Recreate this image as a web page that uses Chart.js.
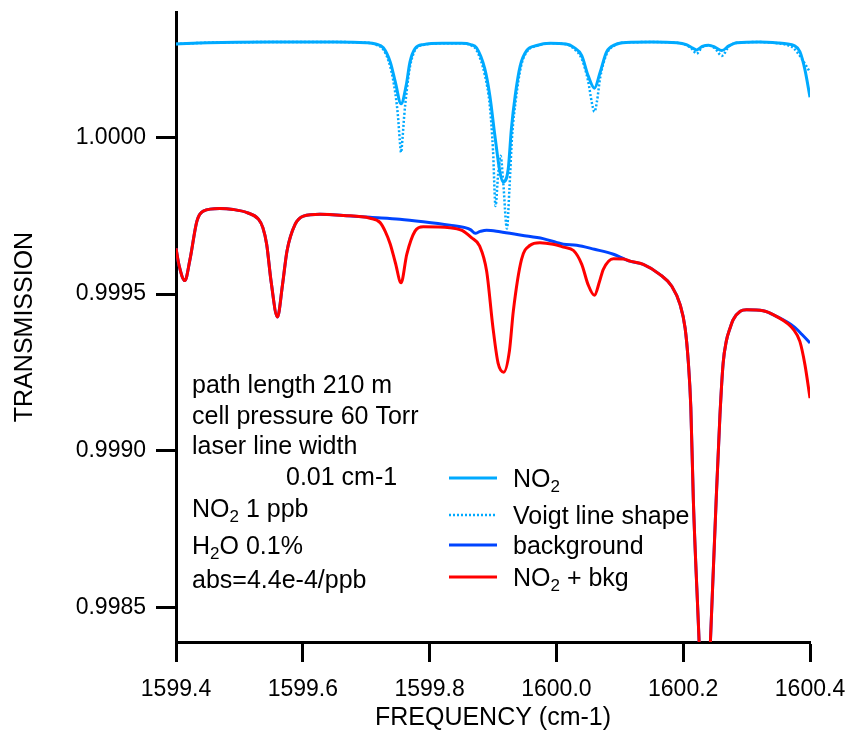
<!DOCTYPE html>
<html>
<head>
<meta charset="utf-8">
<script src="https://cdn.jsdelivr.net/npm/chart.js@4"></script>
<style>
  body { margin: 0; background: #fff; }
  #wrap { width: 850px; height: 734px; position: relative; }
</style>
</head>
<body>
<div id="wrap"><canvas id="specChart"></canvas></div>
<script>
// NO2 transmission (Voigt with laser width) - cyan solid
const freqNO2 = [1599.400, 1599.450, 1599.550, 1599.650, 1599.700, 1599.715, 1599.727, 1599.738, 1599.746, 1599.755,
    1599.763, 1599.769, 1599.777, 1599.790, 1599.820, 1599.850, 1599.865, 1599.874, 1599.887, 1599.895,
    1599.903, 1599.911, 1599.916, 1599.924, 1599.929, 1599.935, 1599.943, 1599.953, 1599.969, 1599.990,
    1600.015, 1600.027, 1600.040, 1600.050, 1600.060, 1600.069, 1600.079, 1600.092, 1600.110, 1600.150,
    1600.190, 1600.205, 1600.214, 1600.221, 1600.230, 1600.240, 1600.250, 1600.261, 1600.272, 1600.285,
    1600.320, 1600.350, 1600.365, 1600.374, 1600.384, 1600.392, 1600.400];
const transNO2 = [1.000298, 1.000302, 1.000304, 1.000304, 1.000302, 1.000298, 1.000286, 1.000240, 1.000176, 1.000107,
    1.000165, 1.000240, 1.000283, 1.000296, 1.000300, 1.000300, 1.000296, 1.000286, 1.000219, 1.000133,
    1.000005, 0.999889, 0.999858, 0.999899, 1.000027, 1.000133, 1.000229, 1.000277, 1.000293, 1.000300,
    1.000298, 1.000288, 1.000261, 1.000197, 1.000157, 1.000208, 1.000272, 1.000295, 1.000303, 1.000304,
    1.000302, 1.000296, 1.000286, 1.000279, 1.000290, 1.000294, 1.000288, 1.000277, 1.000292, 1.000302,
    1.000304, 1.000301, 1.000298, 1.000294, 1.000274, 1.000216, 1.000128];

// pure Voigt line shape - cyan dotted
const freqVoigt = [1599.400, 1599.450, 1599.550, 1599.650, 1599.700, 1599.715, 1599.727, 1599.738, 1599.746, 1599.750,
    1599.753, 1599.755, 1599.757, 1599.760, 1599.764, 1599.769, 1599.777, 1599.790, 1599.820, 1599.850,
    1599.865, 1599.874, 1599.887, 1599.895, 1599.900, 1599.904, 1599.908, 1599.912, 1599.916, 1599.922,
    1599.926, 1599.930, 1599.936, 1599.944, 1599.953, 1599.969, 1599.990, 1600.015, 1600.027, 1600.040,
    1600.050, 1600.056, 1600.060, 1600.064, 1600.069, 1600.079, 1600.092, 1600.110, 1600.150, 1600.190,
    1600.205, 1600.214, 1600.221, 1600.230, 1600.240, 1600.250, 1600.261, 1600.272, 1600.285, 1600.320,
    1600.350, 1600.365, 1600.374, 1600.384, 1600.392, 1600.400];
const transVoigt = [1.000298, 1.000302, 1.000304, 1.000304, 1.000302, 1.000296, 1.000280, 1.000225, 1.000140, 1.000070,
    0.999990, 0.999952, 0.999990, 1.000070, 1.000150, 1.000225, 1.000278, 1.000295, 1.000300, 1.000300,
    1.000294, 1.000278, 1.000200, 1.000100, 0.999960, 0.999781, 0.999880, 0.999941, 0.999860, 0.999709,
    0.999840, 1.000000, 1.000120, 1.000225, 1.000272, 1.000292, 1.000300, 1.000297, 1.000284, 1.000250,
    1.000180, 1.000110, 1.000082, 1.000115, 1.000190, 1.000265, 1.000294, 1.000303, 1.000304, 1.000302,
    1.000294, 1.000282, 1.000267, 1.000288, 1.000293, 1.000284, 1.000260, 1.000290, 1.000302, 1.000304,
    1.000300, 1.000294, 1.000285, 1.000260, 1.000235, 1.000208];

// background (H2O etc.) - blue
const freqBkg = [1599.400, 1599.405, 1599.414, 1599.422, 1599.433, 1599.443, 1599.469, 1599.490, 1599.512, 1599.530,
    1599.537, 1599.543, 1599.550, 1599.560, 1599.568, 1599.575, 1599.588, 1599.601, 1599.627, 1599.664,
    1599.706, 1599.753, 1599.790, 1599.832, 1599.856, 1599.865, 1599.872, 1599.880, 1599.890, 1599.911,
    1599.945, 1599.979, 1600.000, 1600.011, 1600.032, 1600.060, 1600.090, 1600.106, 1600.116, 1600.137,
    1600.163, 1600.182, 1600.195, 1600.203, 1600.208, 1600.212, 1600.216, 1600.225, 1600.234, 1600.243,
    1600.252, 1600.258, 1600.263, 1600.268, 1600.274, 1600.279, 1600.290, 1600.300, 1600.326, 1600.347,
    1600.374, 1600.387, 1600.400];
const transBkg = [0.999646, 0.999590, 0.999543, 0.999610, 0.999733, 0.999765, 0.999773, 0.999770, 0.999760, 0.999739,
    0.999712, 0.999659, 0.999540, 0.999427, 0.999530, 0.999637, 0.999723, 0.999749, 0.999755, 0.999751,
    0.999745, 0.999739, 0.999731, 0.999720, 0.999712, 0.999705, 0.999694, 0.999700, 0.999704, 0.999699,
    0.999688, 0.999677, 0.999665, 0.999659, 0.999656, 0.999643, 0.999627, 0.999613, 0.999605, 0.999595,
    0.999563, 0.999525, 0.999467, 0.999392, 0.999285, 0.999140, 0.998843, 0.998395, 0.997900, 0.998395,
    0.998843, 0.999115, 0.999280, 0.999350, 0.999392, 0.999419, 0.999445, 0.999450, 0.999447, 0.999429,
    0.999397, 0.999372, 0.999344];

// NO2 + background - red
const freqSum = [1599.400, 1599.405, 1599.414, 1599.422, 1599.433, 1599.443, 1599.469, 1599.490, 1599.512, 1599.530,
    1599.537, 1599.543, 1599.550, 1599.560, 1599.568, 1599.575, 1599.588, 1599.601, 1599.627, 1599.664,
    1599.706, 1599.722, 1599.730, 1599.738, 1599.746, 1599.755, 1599.764, 1599.777, 1599.790, 1599.832,
    1599.851, 1599.866, 1599.879, 1599.890, 1599.900, 1599.908, 1599.917, 1599.926, 1599.932, 1599.945,
    1599.958, 1599.974, 1599.995, 1600.011, 1600.027, 1600.040, 1600.050, 1600.060, 1600.068, 1600.074,
    1600.090, 1600.106, 1600.116, 1600.137, 1600.163, 1600.182, 1600.195, 1600.203, 1600.208, 1600.212,
    1600.216, 1600.225, 1600.234, 1600.243, 1600.252, 1600.258, 1600.263, 1600.268, 1600.274, 1600.279,
    1600.290, 1600.300, 1600.326, 1600.347, 1600.374, 1600.384, 1600.392, 1600.400];
const transSum = [0.999646, 0.999590, 0.999543, 0.999610, 0.999733, 0.999765, 0.999773, 0.999770, 0.999760, 0.999739,
    0.999712, 0.999659, 0.999540, 0.999427, 0.999530, 0.999637, 0.999723, 0.999749, 0.999755, 0.999751,
    0.999742, 0.999728, 0.999700, 0.999659, 0.999600, 0.999536, 0.999627, 0.999701, 0.999715, 0.999712,
    0.999703, 0.999680, 0.999653, 0.999573, 0.999392, 0.999280, 0.999251, 0.999320, 0.999445, 0.999611,
    0.999655, 0.999664, 0.999659, 0.999650, 0.999639, 0.999595, 0.999530, 0.999496, 0.999540, 0.999579,
    0.999613, 0.999612, 0.999605, 0.999595, 0.999563, 0.999525, 0.999467, 0.999392, 0.999285, 0.999140,
    0.998843, 0.998395, 0.997900, 0.998395, 0.998843, 0.999115, 0.999280, 0.999350, 0.999392, 0.999419,
    0.999445, 0.999450, 0.999447, 0.999429, 0.999387, 0.999349, 0.999275, 0.999168];

const yTicks = [0.9985, 0.9990, 0.9995, 1.0000];
const xTicks = [1599.4, 1599.6, 1599.8, 1600.0, 1600.2, 1600.4];

const notes = [
    [['path length 210 m']],
    [['cell pressure 60 Torr']],
    [['laser line width']],
    [['0.01 cm-1']],
    [['NO'], ['2', 'sub'], [' 1 ppb']],
    [['H'], ['2', 'sub'], ['O 0.1%']],
    [['abs=4.4e-4/ppb']]
];
const legendItems = [
    { parts: [['NO'], ['2', 'sub']], color: '#00AAFF', dash: [] },
    { parts: [['Voigt line shape']], color: '#00AAFF', dash: [2, 2] },
    { parts: [['background']], color: '#0044FF', dash: [] },
    { parts: [['NO'], ['2', 'sub'], [' + bkg']], color: '#FF0000', dash: [] }
];

const FONT = '"Liberation Sans", Arial, sans-serif';

function toPoints(xs, ys) {
    return xs.map((x, i) => ({ x: x, y: ys[i] }));
}

function drawRich(ctx, x, y, parts) {
    let cx = x;
    parts.forEach(p => {
        const sub = p[1] === 'sub';
        ctx.font = (sub ? '17px ' : '25px ') + FONT;
        ctx.fillText(p[0], cx, sub ? y + 5 : y);
        cx += ctx.measureText(p[0]).width;
    });
}

const textPlugin = {
    id: 'textPlugin',
    afterDraw(chart) {
        const ctx = chart.ctx;
        const area = chart.chartArea;
        ctx.save();
        ctx.fillStyle = '#000';
        ctx.textBaseline = 'alphabetic';
        ctx.textAlign = 'left';
        // annotation block (offsets from the top-left of the plot area)
        const noteX = [16, 16, 16, 110, 16, 16, 16];
        const noteY = [381, 412, 442, 473, 505, 542, 576];
        notes.forEach((parts, i) => drawRich(ctx, area.left + noteX[i], area.top + noteY[i], parts));
        // legend block
        const legY = [475, 512, 542, 574];
        legendItems.forEach((item, i) => {
            const y = area.top + legY[i];
            ctx.beginPath();
            ctx.strokeStyle = item.color;
            ctx.lineWidth = item.dash.length ? 2.5 : 3;
            ctx.setLineDash(item.dash);
            ctx.moveTo(area.left + 273, y - 9);
            ctx.lineTo(area.left + 321, y - 9);
            ctx.stroke();
            ctx.setLineDash([]);
            drawRich(ctx, area.left + 337, y, item.parts);
        });
        ctx.restore();
    }
};

const specCtx = document.getElementById('specChart').getContext('2d');

const specChart = new Chart(specCtx, {
    type: 'line',
    data: {
        datasets: [
            {
                label: 'NO2 + bkg',
                data: toPoints(freqSum, transSum),
                borderColor: '#FF0000',
                borderWidth: 3,
                order: 0
            },
            {
                label: 'background',
                data: toPoints(freqBkg, transBkg),
                borderColor: '#0044FF',
                borderWidth: 3,
                order: 1
            },
            {
                label: 'Voigt line shape',
                data: toPoints(freqVoigt, transVoigt),
                borderColor: '#00AAFF',
                borderWidth: 2.5,
                borderDash: [2, 2],
                order: 2
            },
            {
                label: 'NO2',
                data: toPoints(freqNO2, transNO2),
                borderColor: '#00AAFF',
                borderWidth: 3,
                order: 3
            }
        ]
    },
    options: {
        responsive: true,
        maintainAspectRatio: false,
        animation: false,
        layout: { padding: { top: 12, right: 40, left: 0, bottom: 0 } },
        elements: {
            point: { radius: 0 },
            line: { cubicInterpolationMode: 'monotone', fill: false }
        },
        plugins: {
            legend: { display: false },
            tooltip: { enabled: false }
        },
        scales: {
            x: {
                type: 'linear',
                min: 1599.4,
                max: 1600.4,
                afterBuildTicks: scale => { scale.ticks = xTicks.map(v => ({ value: v })); },
                afterFit: scale => {
                    scale.height = 92;
                    scale.paddingLeft = 0;
                    scale.paddingRight = 0;
                },
                border: { color: '#000', width: 3 },
                grid: { drawOnChartArea: false, drawTicks: true, tickLength: 20, tickWidth: 3, tickColor: '#000' },
                ticks: {
                    color: '#000',
                    padding: 14,
                    maxRotation: 0,
                    font: { family: FONT, size: 23 },
                    callback: v => v.toFixed(1)
                },
                title: {
                    display: true,
                    text: 'FREQUENCY (cm-1)',
                    color: '#000',
                    font: { family: FONT, size: 25 },
                    padding: { top: 0, bottom: 1 }
                }
            },
            y: {
                type: 'linear',
                min: 0.99839,
                max: 1.0004,
                afterBuildTicks: scale => { scale.ticks = yTicks.map(v => ({ value: v })); },
                afterFit: scale => {
                    scale.width = 176;
                    scale.paddingTop = 0;
                    scale.paddingBottom = 0;
                },
                border: { color: '#000', width: 3 },
                grid: { drawOnChartArea: false, drawTicks: true, tickLength: 20, tickWidth: 3, tickColor: '#000' },
                ticks: {
                    color: '#000',
                    padding: 10,
                    font: { family: FONT, size: 23 },
                    callback: v => v.toFixed(4)
                },
                title: {
                    display: true,
                    text: 'TRANSMISSION',
                    color: '#000',
                    font: { family: FONT, size: 25 },
                    padding: { top: 10, bottom: 0 }
                }
            }
        }
    },
    plugins: [textPlugin]
});
</script>
</body>
</html>
